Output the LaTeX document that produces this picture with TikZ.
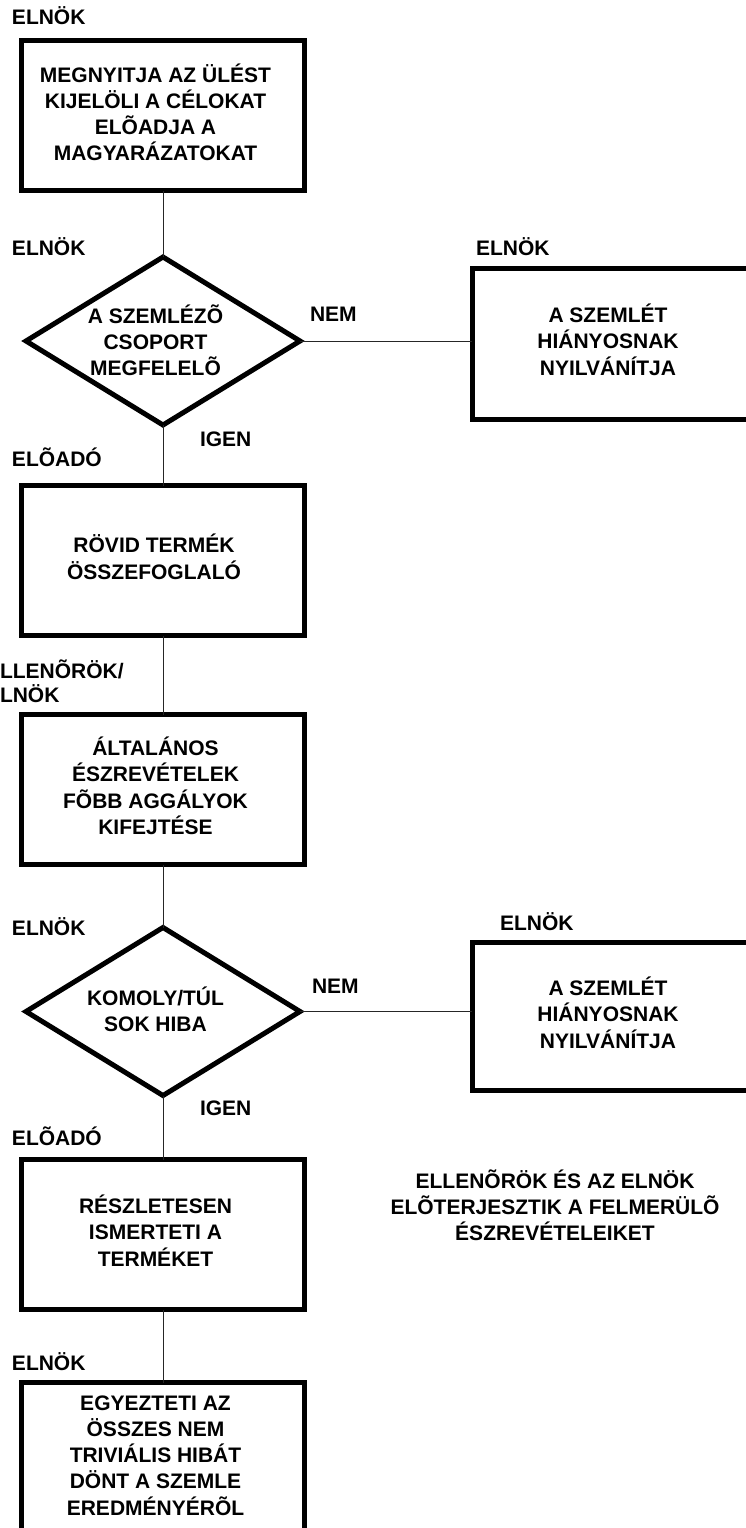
\documentclass[tikz,border=0pt]{standalone}
\usepackage{fontspec}
\setmainfont{Liberation Sans}
\usetikzlibrary{shapes.geometric}

% centred block of lines; the optional right padding moves the block left
\newcommand\rows[2][15pt]{\begin{tabular}{@{}c@{\hspace{#1}}}#2\end{tabular}}
% same block, taking no room, so the diamond keeps its own size
\newcommand\drows[2][-9pt]{\smash{\makebox[0pt]{\raisebox{#1}{$\vcenter{\hbox{\rows{#2}}}$}}}}

\tikzset{
  txt/.style={font=\bfseries\fontsize{21}{26}\selectfont},
  stepbox/.style={txt, draw, line width=5pt, rectangle, inner sep=0pt, outer sep=0pt,
    minimum width=283pt, minimum height=150pt},
  sidebox/.style={stepbox, minimum height=151pt},
  choice/.style={txt, draw, line width=5pt, diamond, inner sep=0pt, outer sep=0pt,
    minimum width=274pt, minimum height=168pt},
  lbl/.style={txt, inner sep=0pt, outer sep=0pt, anchor=base west},
  link/.style={line width=0.9pt, black!85}
}

\begin{document}
\begin{tikzpicture}[x=1pt, y=-1pt]
\useasboundingbox (0,0) rectangle (746,1528);
\clip (0,0) rectangle (746,1528);

% main column
\node[stepbox, font=\bfseries\fontsize{21}{24.5}\selectfont] (b1) at (163,115.5)
  {\rows{MEGNYITJA AZ ÜLÉST\\KIJELÖLI A CÉLOKAT\\ELÕADJA A\\MAGYARÁZATOKAT}};
\node[choice] (d1) at (163,341)
  {\drows[-8pt]{A SZEMLÉZÕ\\CSOPORT\\MEGFELELÕ}};
\node[stepbox] (b2) at (163,560.5) {\rows[18pt]{RÖVID TERMÉK\\ÖSSZEFOGLALÓ}};
\node[stepbox] (b3) at (163,789.5)
  {\rows{ÁLTALÁNOS\\ÉSZREVÉTELEK\\FÕBB AGGÁLYOK\\KIFEJTÉSE}};
\node[choice] (d2) at (163,1011.5) {\drows[-7pt]{KOMOLY/TÚL\\SOK HIBA}};
\node[stepbox] (b4) at (163,1234.5) {\rows{RÉSZLETESEN\\ISMERTETI A\\TERMÉKET}};
\node[stepbox] (b5) at (163,1457.5)
  {\rows{EGYEZTETI AZ\\ÖSSZES NEM\\TRIVIÁLIS HIBÁT\\DÖNT A SZEMLE\\EREDMÉNYÉRÕL}};

% rejection boxes on the right
\node[sidebox] (r1) at (613.5,343.5) {\rows[11pt]{A SZEMLÉT\\HIÁNYOSNAK\\NYILVÁNÍTJA}};
\node[sidebox, minimum height=148pt] (r2) at (613.5,1016.5)
  {\rows[11pt]{A SZEMLÉT\\HIÁNYOSNAK\\NYILVÁNÍTJA}};

% connectors
\draw[link] (b1.south) -- (d1.north);
\draw[link] (d1.south) -- (b2.north);
\draw[link] (b2.south) -- (b3.north);
\draw[link] (b3.south) -- (d2.north);
\draw[link] (d2.south) -- (b4.north);
\draw[link] (b4.south) -- (b5.north);
\draw[link] (d1.east) -- (d1.east -| r1.west);
\draw[link] (d2.east) -- (d2.east -| r2.west);

% roles and branch labels
\node[lbl] (l0) at (12,25) {ELNÖK};
\node[lbl] (l1) at (12,255) {ELNÖK};
\node[lbl] (l2) at (476,255) {ELNÖK};
\node[lbl] (n1) at (310,321) {NEM};
\node[lbl] (y1) at (200,446) {IGEN};
\node[lbl] (l3) at (12,466) {ELÕADÓ};
\node[lbl, font=\bfseries\fontsize{21}{23}\selectfont] (l4) at (-14,678)
  {\begin{tabular}[t]{@{}l@{}}ELLENÕRÖK/\\ELNÖK\end{tabular}};
\node[lbl] (l5) at (12,935) {ELNÖK};
\node[lbl] (l6) at (500,930) {ELNÖK};
\node[lbl] (n2) at (312,993) {NEM};
\node[lbl] (y2) at (200,1115) {IGEN};
\node[lbl] (l7) at (12,1145) {ELÕADÓ};
\node[lbl] (l8) at (12,1370) {ELNÖK};

% note beside the detailed presentation
\node[lbl, anchor=base] (note) at (555,1188)
  {\begin{tabular}[t]{@{}c@{}}ELLENÕRÖK ÉS AZ ELNÖK\\ELÕTERJESZTIK A FELMERÜLÕ\\ÉSZREVÉTELEIKET\end{tabular}};
\end{tikzpicture}
\end{document}
